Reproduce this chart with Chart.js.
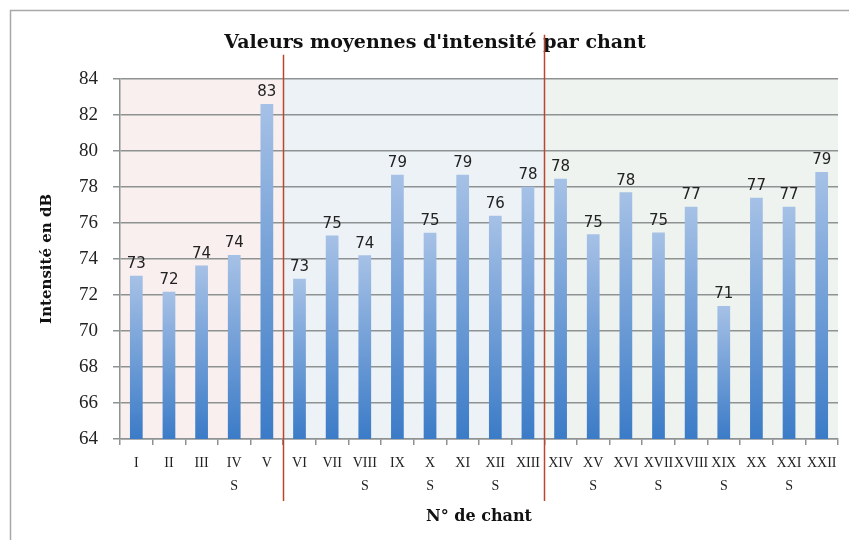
<!DOCTYPE html>
<html>
<head>
<meta charset="utf-8">
<script src="https://cdn.jsdelivr.net/npm/chart.js@4/dist/chart.umd.min.js"></script>
<style>
  html, body { margin: 0; padding: 0; background: #fff; }
  #wrap { width: 849px; height: 540px; position: relative; }
</style>
</head>
<body>
<div id="wrap"><canvas id="intChart"></canvas></div>
<script>
// chants (roman numerals), second line "S" where marked
const chants = ['I', 'II', 'III', 'IV', 'V', 'VI', 'VII', 'VIII', 'IX', 'X', 'XI',
  'XII', 'XIII', 'XIV', 'XV', 'XVI', 'XVII', 'XVIII', 'XIX', 'XX', 'XXI', 'XXII'];
const marks = ['', '', '', 'S', '', '', '', 'S', '', 'S', '', 'S', '', '', 'S', '', 'S', '', 'S', '', 'S', ''];
// mean intensity in dB
const intensite = [73.07, 72.18, 73.63, 74.22, 82.6, 72.9, 75.3, 74.2, 78.67, 75.45, 78.67,
  76.4, 78.0, 78.45, 75.37, 77.7, 75.46, 76.9, 71.39, 77.4, 76.9, 78.83];
// first chant index of each section
const sections = [0, 5, 13];
const sectionColors = ['#f8efee', '#edf2f6', '#eef3ef'];

const yMin = 64, yMax = 84, yStep = 2;

const labels = chants.map((c, i) => marks[i] ? [c, marks[i]] : c);

const serif = '"DejaVu Serif", serif';
const tickSerif = '"Liberation Serif", serif';

const bgPlugin = {
  id: 'bg',
  beforeDraw(chart) {
    const ctx = chart.ctx, area = chart.chartArea, x = chart.scales.x;
    ctx.save();
    ctx.fillStyle = '#fff';
    ctx.fillRect(0, 0, chart.width, chart.height);
    ctx.strokeStyle = '#a8a8a8';
    ctx.lineWidth = 1.5;
    ctx.strokeRect(10.5, 10.5, chart.width + 20, chart.height + 20);
    sections.forEach((s, i) => {
      const end = i + 1 < sections.length ? sections[i + 1] : chants.length;
      const x0 = x.getPixelForValue(s - 0.5);
      const x1 = x.getPixelForValue(end - 0.5);
      ctx.fillStyle = sectionColors[i];
      ctx.fillRect(x0, area.top, x1 - x0, area.bottom - area.top);
    });
    ctx.restore();
  },
  afterDraw(chart) {
    const ctx = chart.ctx, area = chart.chartArea, x = chart.scales.x;
    ctx.save();
    ctx.strokeStyle = '#b8472f';
    ctx.lineWidth = 1.5;
    // section dividers
    [[sections[1], 24], [sections[2], 44]].forEach(([s, up]) => {
      const px = Math.round(x.getPixelForValue(s - 0.5)) + 0.5;
      ctx.beginPath();
      ctx.moveTo(px, area.top - up);
      ctx.lineTo(px, area.bottom + 62);
      ctx.stroke();
    });
    ctx.restore();
  }
};

const valuePlugin = {
  id: 'values',
  afterDatasetsDraw(chart) {
    const ctx = chart.ctx;
    const meta = chart.getDatasetMeta(0);
    ctx.save();
    ctx.font = '15px "DejaVu Sans", sans-serif';
    ctx.fillStyle = '#222';
    ctx.textAlign = 'center';
    ctx.textBaseline = 'bottom';
    meta.data.forEach((bar, i) => {
      ctx.fillText(String(Math.round(intensite[i])), bar.x, bar.y - 4);
    });
    ctx.restore();
  }
};

new Chart(document.getElementById('intChart'), {
  type: 'bar',
  data: {
    labels: labels,
    datasets: [{
      data: intensite,
      backgroundColor: c => {
        const area = c.chart.chartArea;
        if (!area || c.raw == null) return '#6c9ad4';
        const top = c.chart.scales.y.getPixelForValue(c.raw);
        const g = c.chart.ctx.createLinearGradient(0, top, 0, area.bottom);
        g.addColorStop(0, '#a6c1e6');
        g.addColorStop(1, '#3b7bc7');
        return g;
      },
      categoryPercentage: 1,
      barPercentage: 0.39
    }]
  },
  options: {
    responsive: true,
    maintainAspectRatio: false,
    animation: false,
    layout: { padding: { left: 32, right: 11, top: 0, bottom: 8 } },
    plugins: {
      legend: { display: false },
      tooltip: { enabled: false },
      title: {
        display: true,
        text: "Valeurs moyennes d'intensité par chant",
        color: '#111',
        font: { family: serif, size: 19, weight: 'bold' },
        padding: { top: 32, bottom: 24 }
      }
    },
    scales: {
      x: {
        afterFit: s => { s.height = 93; },
        grid: { drawOnChartArea: false, tickLength: 6, color: '#8e9292', lineWidth: 1.5 },
        border: { color: '#8e9292', width: 1.5 },
        ticks: { color: '#222', font: { family: tickSerif, size: 14, lineHeight: 1.65 }, padding: 7, maxRotation: 0, autoSkip: false },
        title: {
          display: true, text: 'N° de chant', color: '#111',
          font: { family: serif, size: 16, weight: 'bold' }, padding: { top: 0, bottom: 6 }
        }
      },
      y: {
        min: yMin, max: yMax,
        afterFit: s => { s.width = 88; },
        grid: { color: '#8e9292', lineWidth: 1.5, tickLength: 7 },
        border: { color: '#8e9292', width: 1.5 },
        ticks: { stepSize: yStep, color: '#222', font: { family: tickSerif, size: 19 }, padding: 15 },
        title: {
          display: true, text: 'Intensité en dB', color: '#111',
          font: { family: serif, size: 15, weight: 'bold' }, padding: { top: 6 }
        }
      }
    }
  },
  plugins: [bgPlugin, valuePlugin]
});
</script>
</body>
</html>
